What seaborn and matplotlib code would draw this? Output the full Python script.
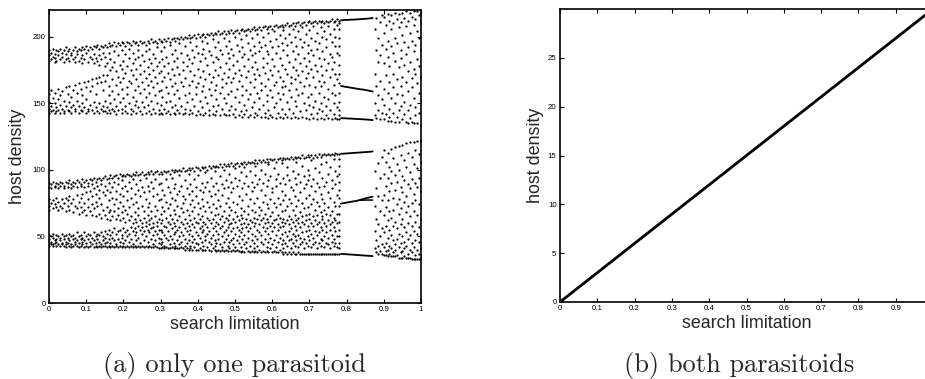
import matplotlib
matplotlib.use("Agg")
import matplotlib.pyplot as plt
import matplotlib.ticker as mticker
import pandas as pd
import seaborn as sns

# chaotic host densities, one row per search limitation value:
# "limitation  host values..."
host_high_rows = """
0.000 190 186 182 157 151 146 143
0.005 188 183 160 148 144
0.010 191 185 154 145
0.015 187 184 181 158 150 143
0.020 190 182 147 144
0.025 189 186 161 153 145
0.030 191 183 156 149 143
0.035 188 185 159 146
0.040 190 181 152 144 143
0.045 192 187 183 162 148
0.050 189 184 157 145
0.055 191 182 163 151 144
0.060 188 186 155 147 143
0.065 190 183 160 149
0.070 192 185 181 164 146 144
0.075 189 187 158 152
0.080 191 182 165 148 143
0.085 190 184 161 145
0.090 192 186 180 156 150 144
0.095 191 183 166 147
0.100 193 188 162 153 143
0.105 190 181 167 146 144
0.110 192 185 159 149
0.115 191 183 168 163 145
0.120 193 187 180 151 143
0.125 192 184 169 157 147
0.130 194 182 165 144
0.135 191 186 179 170 150 143
0.140 193 183 166 146
0.145 192 188 171 160 148 144
0.150 194 185 178 167 152 144
0.155 192 180 171 147 143
0.160 195 188 163 156 145
0.165 193 183 175 150 143
0.170 194 177 168 159 146
0.175 196 189 181 153 144
0.180 193 174 164 148 142
0.185 195 186 170 157 145
0.190 194 179 166 151
0.195 196 190 176 161 146 143
0.200 195 182 169 154
0.205 193 187 173 148 144
0.210 196 178 162 157 143
0.215 195 191 184 167 150
0.220 194 175 165 146 142
0.225 197 188 180 171 155 144
0.230 195 183 160 149
0.235 196 176 168 152 143
0.240 194 190 185 163 147
0.245 197 179 172 158 144
0.250 195 186 166 151 142
0.255 196 182 174 161 147
0.260 194 189 169 155 143
0.265 197 177 164 149
0.270 195 191 183 172 158 144
0.275 198 180 167 152 142
0.280 196 187 175 162 146
0.285 197 184 170 156 143
0.290 195 192 178 165 150
0.295 198 181 173 159 145 142
0.300 197 189 174 160 149 143
0.305 196 183 167 155 142
0.310 198 192 178 170 146
0.315 197 185 162 151 143
0.320 199 180 173 158 144
0.325 196 194 168 152 142
0.330 198 187 176 163 147
0.335 199 182 171 157 143
0.340 197 190 165 149 142
0.345 199 184 177 160 145
0.350 198 195 172 154 143
0.355 200 188 166 148
0.360 198 181 175 163 142
0.365 200 193 169 156 146 143
0.370 199 186 178 151
0.375 201 183 164 158 142
0.380 199 196 174 145
0.385 200 190 180 167 153 143
0.390 201 185 171 148
0.395 199 193 162 157 141
0.400 202 188 176 165 144
0.405 200 182 170 152 142
0.410 201 197 187 159 147
0.415 202 191 174 163 141
0.420 200 184 168 155 143
0.425 202 195 179 150
0.430 201 189 172 161 145 141
0.435 203 186 166 156
0.440 201 198 181 170 148 142
0.445 203 192 175 160 141
0.450 202 185 164 153 144
0.455 204 196 183 171 149
0.460 202 190 177 158 141
0.465 203 187 168 162 146
0.470 204 199 173 154 142
0.475 202 193 180 165 150 141
0.480 204 188 170 157
0.485 203 197 184 176 145 141
0.490 205 191 166 159 148
0.495 203 186 179 169 142
0.500 204 200 173 155 146 140
0.505 205 194 182 161
0.510 203 189 175 167 151 141
0.515 205 198 171 144
0.520 206 192 185 163 156 140
0.525 204 187 178 149 142
0.530 205 201 170 160 145
0.535 206 195 183 174 153 140
0.540 204 190 166 157 141
0.545 206 199 186 177 147
0.550 207 193 172 162 151 140
0.555 205 188 181 168 143
0.560 206 202 176 158 141
0.565 207 196 189 171 154 146
0.570 205 192 165 160 140
0.575 207 200 184 177 149
0.580 208 194 173 163 143 140
0.585 206 189 180 156 152
0.590 207 203 187 168 145 139
0.595 208 197 175 160 141
0.600 206 192 183 171 155 140
0.605 208 204 178 164 147
0.610 209 198 188 166 150 139
0.615 207 193 174 158 143
0.620 208 201 184 170 153 140
0.625 209 195 179 162 146
0.630 207 205 190 167 157 139
0.635 209 199 176 163 142
0.640 210 194 186 172 151 140
0.645 208 202 181 160 146
0.650 209 196 170 165 155 139
0.655 210 206 189 177 143
0.660 208 200 183 168 152 140
0.665 210 193 175 161 148
0.670 211 204 187 171 156 139
0.675 209 198 180 166 144
0.680 210 207 192 174 158 140
0.685 211 196 184 163 150
0.690 209 202 178 169 145 139
0.695 211 194 188 173 155
0.700 212 205 182 164 149 138
0.705 210 199 190 176 157 142
0.710 211 208 186 170 147 139
0.715 212 197 179 162 152
0.720 210 203 191 174 143 138
0.725 212 195 184 167 158 146
0.730 211 207 178 163 150 139
0.735 212 200 189 171 144
0.740 210 204 183 166 155 138
0.745 212 198 192 175 148 141
0.750 211 208 180 161 153 139
0.755 212 202 187 170 145
0.760 213 196 185 176 158 138
0.765 211 206 181 164 150 142
0.770 212 200 193 172 156 139
0.775 213 209 188 168 147 138
0.780 212 210 206 199 193 186 179 172 165 158 151 145 141 138
0.875 206 172 150 141
0.880 214 190 163 139
0.885 199 181 156 145
0.890 211 186 167 138
0.895 216 194 153 143
0.900 215 203 180 161 149 138
0.905 209 191 171 142
0.910 217 197 185 158 137
0.915 212 178 166 146 140
0.920 216 206 193 154 137
0.925 210 188 172 162 143
0.930 218 199 182 150 136
0.935 213 195 168 157 140
0.940 217 207 177 145 136
0.945 211 190 184 163 148
0.950 218 201 170 156 138
0.955 214 196 179 151 142
0.960 219 208 187 166 136
0.965 212 192 174 159 145 135
0.970 218 203 181 149 139
0.975 215 197 169 162 136
0.980 219 209 189 176 154 135
0.985 213 194 172 147 141
0.990 219 204 183 165 135
0.995 216 199 178 158 143
1.000 219 211 190 170 152 134
"""

host_low_rows = """
0.000 90 87 78 73 70 51 48 45 43
0.005 89 86 75 50 46 44
0.010 91 77 71 52 49 44 43
0.015 88 87 74 47 45
0.020 90 79 72 51 48 46 43
0.025 89 86 76 70 50 44
0.030 91 88 73 49 47 43
0.035 90 78 71 52 45 44
0.040 88 86 75 50 48 43
0.045 91 79 69 51 46 44 42
0.050 90 87 77 73 49 45
0.055 92 80 70 52 47 43
0.060 89 86 75 50 44 42
0.065 91 88 78 68 51 48 43
0.070 90 73 49 46 44
0.075 92 87 81 71 53 47 43
0.080 91 76 67 50 45 42
0.085 89 88 79 72 51 48 43
0.090 93 82 68 49 46 44
0.095 91 87 75 70 53 47 42
0.100 92 83 66 50 45 43
0.105 90 88 78 72 52 48 42
0.110 93 84 69 51 46 43
0.115 92 89 80 74 66 49 44
0.120 94 86 71 53 47 42
0.125 91 82 76 65 50 45 43
0.130 93 88 73 52 48 42
0.135 94 85 79 67 51 46 43
0.140 92 89 74 64 53 44 42
0.145 94 83 70 50 47 43
0.150 95 88 81 66 54 49 45 43
0.155 93 85 72 63 52 46 42
0.160 94 90 77 68 55 48 43
0.165 96 83 70 62 51 45 42
0.170 94 87 79 65 53 49 43
0.175 95 91 74 69 56 47 42
0.180 96 84 78 63 52 44 43
0.185 94 89 71 66 54 48 42
0.190 97 82 76 62 55 46 43
0.195 95 92 86 68 51 49 42
0.200 96 80 73 64 56 45 43
0.205 95 88 70 61 53 47 42
0.210 97 84 77 67 55 50 43
0.215 96 91 72 62 52 46 42
0.220 95 86 79 65 57 48 43
0.225 97 93 74 60 54 44 42
0.230 96 82 68 63 56 51 43
0.235 98 89 76 61 53 47 42
0.240 96 85 71 66 58 49 43
0.245 97 92 80 62 55 45 42
0.250 98 87 73 60 57 52 43
0.255 96 83 69 64 54 47 42
0.260 97 94 78 61 58 50 43
0.265 98 88 72 66 55 46 42
0.270 97 84 75 62 59 53 43
0.275 99 91 69 64 56 48 42
0.280 97 86 80 60 57 51 44 42
0.285 98 93 73 65 54 47 43
0.290 99 82 70 61 58 52 42
0.295 97 89 77 63 55 49 45 41
0.300 98 90 78 67 60 55 48 44 41
0.305 97 85 72 62 53 46 42
0.310 99 81 69 58 51 43 41
0.315 98 93 76 64 57 49 42
0.320 99 87 71 61 54 47 41
0.325 97 83 74 66 59 50 44 41
0.330 100 94 79 63 56 48 42
0.335 98 86 70 60 52 45 41
0.340 100 89 77 67 58 53 43 41
0.345 99 82 73 62 55 47 41
0.350 100 96 84 65 57 50 44 41
0.355 99 88 71 61 53 46 42
0.360 101 80 75 68 59 51 41
0.365 99 92 78 63 56 48 43 40
0.370 100 86 70 60 54 45 41
0.375 101 97 82 66 58 52 47 40
0.380 100 89 74 62 55 43 41
0.385 101 84 77 69 59 50 46 40
0.390 99 93 72 64 57 48 42
0.395 102 87 80 61 53 45 40
0.400 101 96 75 67 60 51 44 40
0.405 100 85 71 63 56 49 41
0.410 102 90 78 65 58 53 46 40
0.415 101 83 73 61 55 43 40
0.420 102 98 87 69 59 50 47 40
0.425 100 91 76 64 57 52 42
0.430 103 84 72 62 54 46 40
0.435 101 94 80 68 60 49 44 39
0.440 103 88 74 63 56 51 41
0.445 102 99 82 66 58 47 43 40
0.450 103 90 71 61 54 45 39
0.455 102 85 77 67 59 52 48 40
0.460 104 95 73 63 56 44 39
0.465 102 89 81 65 58 50 42 40
0.470 104 100 86 69 61 53 46 39
0.475 103 92 75 64 55 48 40
0.480 104 87 79 62 57 51 43 39
0.485 103 97 72 66 59 46 41
0.490 105 91 83 70 60 54 47 39
0.495 103 86 76 63 56 49 44 40
0.500 104 101 94 68 61 52 42 39
0.505 105 88 74 65 57 47 40
0.510 103 92 80 62 55 50 45 39
0.515 105 98 71 66 59 53 42 38
0.520 104 86 77 64 56 48 39
0.525 106 102 90 69 60 51 44 38
0.530 104 95 82 63 57 46 41
0.535 106 88 73 67 59 54 49 39
0.540 105 99 78 62 56 43 38
0.545 106 91 84 70 61 52 47 39
0.550 105 87 75 64 58 45 41 38
0.555 107 103 96 68 60 50 39
0.560 105 89 79 63 55 48 43 38
0.565 107 93 72 66 59 53 40
0.570 106 100 85 70 62 51 46 38
0.575 107 90 76 64 57 44 39
0.580 106 97 81 67 60 54 48 38
0.585 108 88 74 63 56 42 39
0.590 106 104 92 71 61 52 46 38
0.595 108 95 78 65 58 49 41
0.600 107 86 83 68 60 54 44 38
0.605 108 101 75 62 57 47 39
0.610 106 93 88 72 63 51 42 38
0.615 108 97 79 66 59 55 46 38
0.620 109 90 74 64 57 49 40
0.625 107 105 84 69 61 52 44 38
0.630 109 94 77 63 58 47 41 37
0.635 108 89 81 70 60 53 45 38
0.640 109 102 96 73 62 50 43 37
0.645 108 92 78 65 59 54 47 38
0.650 110 87 75 63 56 48 41 37
0.655 108 99 85 70 61 52 45 38
0.660 110 94 80 66 58 50 43 37
0.665 109 106 89 73 62 55 47 37
0.670 110 97 77 64 60 51 42 38
0.675 109 91 83 68 57 49 44 37
0.680 111 103 75 65 61 53 46 37
0.685 109 95 86 71 59 48 41 37
0.690 110 89 79 66 62 54 45 37
0.695 111 100 92 72 58 50 43 37
0.700 110 96 81 67 63 55 47 37
0.705 111 107 88 74 60 52 42 37
0.710 109 93 78 65 58 49 44 37
0.715 111 101 84 70 62 54 46 37
0.720 110 90 76 66 59 51 41 37
0.725 112 98 87 73 61 53 45 37
0.730 110 104 82 68 57 48 43 37
0.735 111 94 78 65 63 55 47 37
0.740 112 88 75 70 60 50 42 37
0.745 111 106 91 67 58 53 45 37
0.750 112 97 83 72 62 49 44 37
0.755 111 102 79 66 59 55 41 37
0.760 112 92 86 69 61 51 46 37
0.765 111 108 76 64 57 48 43 37
0.770 113 99 89 73 62 54 45 37
0.775 112 95 81 67 60 50 42 37
0.780 112 108 103 97 91 85 79 73 67 61 55 50 45 41 37
0.875 99 73 54 41
0.880 86 63 47 38
0.885 105 80 59 43 37
0.890 94 69 50 39
0.895 110 77 56 44 37
0.900 115 97 81 66 53 42 36
0.905 106 88 72 58 45 39 36
0.910 113 94 77 62 49 40 35
0.915 102 84 69 55 43 37
0.920 116 99 90 64 51 41 35
0.925 109 79 70 58 47 38 35
0.930 117 96 85 61 44 40 35
0.935 104 91 74 56 48 36
0.940 118 100 78 67 52 42 34
0.945 111 87 71 59 45 38 34
0.950 119 95 83 63 50 39 34
0.955 107 92 76 57 46 41 35
0.960 120 102 80 68 53 43 34
0.965 113 89 73 60 48 37 34
0.970 121 98 86 65 51 40 34
0.975 110 93 75 58 45 38 33
0.980 121 104 82 69 54 42 33
0.985 115 90 77 61 47 36 33
0.990 122 101 87 66 52 40 33
0.995 112 94 74 57 46 37 33
1.000 122 106 84 63 50 41 33
"""

# periodic window of panel (a)
window_limitation = [0.785, 0.79, 0.795, 0.80, 0.805, 0.81, 0.815, 0.82, 0.825,
                     0.83, 0.835, 0.84, 0.845, 0.85, 0.855, 0.86, 0.865, 0.87]
window_branch_1 = [212.3, 212.4, 212.5, 212.5, 212.6, 212.7, 212.8, 212.8, 212.9,
                   213.0, 213.1, 213.2, 213.3, 213.4, 213.5, 213.6, 213.8, 214.0]
window_branch_2 = [163.0, 162.7, 162.4, 162.2, 162.0, 161.7, 161.5, 161.3, 161.0,
                   160.8, 160.6, 160.4, 160.2, 160.0, 159.7, 159.4, 159.1, 158.8]
window_branch_3 = [138.8, 138.7, 138.7, 138.6, 138.5, 138.5, 138.4, 138.3, 138.2,
                   138.2, 138.1, 138.0, 137.9, 137.8, 137.7, 137.6, 137.5, 137.3]
window_branch_4 = [112.0, 112.1, 112.2, 112.3, 112.4, 112.5, 112.6, 112.7, 112.8,
                   112.9, 113.0, 113.1, 113.2, 113.3, 113.4, 113.5, 113.6, 113.8]
window_branch_5 = [74.6, 74.9, 75.1, 75.4, 75.6, 75.9, 76.1, 76.4, 76.6,
                   76.9, 77.3, 77.7, 78.1, 78.5, 78.9, 79.2, 79.5, 79.8]
window_branch_6 = [36.9, 36.8, 36.7, 36.6, 36.5, 36.4, 36.3, 36.2, 36.1,
                   36.0, 35.9, 35.8, 35.7, 35.6, 35.5, 35.4, 35.3, 35.2]
split_limitation = [0.835, 0.84, 0.845, 0.85, 0.855, 0.86, 0.865, 0.87]
split_branch = [77.1, 77.2, 77.2, 77.3, 77.3, 77.3, 77.3, 77.3]

# panel (b): both parasitoids
both_limitation = [0.0, 1.0]
both_host = [0.0, 30.0]


def parse_rows(text):
    xs, ys = [], []
    for line in text.strip().splitlines():
        head, *vals = line.split()
        xs += [float(head)] * len(vals)
        ys += [float(v) for v in vals]
    return pd.DataFrame({"limitation": xs, "host": ys})


def tick_fmt(x, pos):
    return f"{x:g}"


def style_axes(ax):
    for side in ax.spines.values():
        side.set_visible(True)
        side.set_linewidth(1.2)
        side.set_color("black")
    ax.tick_params(direction="in", length=3, width=0.8, labelsize=5.7,
                   top=True, right=True, pad=2.5, colors="black")
    ax.xaxis.set_major_formatter(mticker.FuncFormatter(tick_fmt))
    ax.yaxis.set_major_formatter(mticker.FuncFormatter(tick_fmt))
    ax.set_xlabel("search limitation", fontsize=12.9)
    ax.set_ylabel("host density", fontsize=12.9)
    ax.grid(False)


def main():
    sns.set_style("ticks")
    plt.rcParams["font.family"] = ["Liberation Sans", "DejaVu Sans"]

    fig = plt.figure(figsize=(9.25, 3.79), dpi=100)

    # (a) only one parasitoid
    ax1 = fig.add_axes([49 / 925, 76 / 379, 372 / 925, 293 / 379])
    chaos = pd.concat([parse_rows(host_high_rows), parse_rows(host_low_rows)])
    sns.scatterplot(data=chaos, x="limitation", y="host", ax=ax1, s=2.6,
                    color="black", linewidth=0, legend=False)
    for branch in [window_branch_1, window_branch_2, window_branch_3,
                   window_branch_4, window_branch_5, window_branch_6]:
        sns.lineplot(x=window_limitation, y=branch, ax=ax1, color="black",
                     linewidth=1.3)
    sns.lineplot(x=split_limitation, y=split_branch, ax=ax1, color="black",
                 linewidth=1.1)
    ax1.set_xlim(0, 1)
    ax1.set_ylim(0, 220)
    ax1.set_xticks([0, 0.1, 0.2, 0.3, 0.4, 0.5, 0.6, 0.7, 0.8, 0.9, 1])
    ax1.set_yticks([0, 50, 100, 150, 200])
    style_axes(ax1)
    ax1.xaxis.set_label_coords(0.5, -0.045)
    ax1.yaxis.set_label_coords(-0.062, 0.5)

    # (b) both parasitoids (axes runs past the right edge of the figure)
    ax2 = fig.add_axes([560 / 925, 77 / 379, 373 / 925, 293 / 379])
    sns.lineplot(x=both_limitation, y=both_host, ax=ax2, color="black",
                 linewidth=2.0)
    ax2.set_xlim(0, 1)
    ax2.set_ylim(0, 30)
    ax2.set_xticks([0, 0.1, 0.2, 0.3, 0.4, 0.5, 0.6, 0.7, 0.8, 0.9])
    ax2.set_yticks([0, 5, 10, 15, 20, 25])
    style_axes(ax2)
    ax2.xaxis.set_label_coords(0.5, -0.045)
    ax2.yaxis.set_label_coords(-0.043, 0.5)

    fig.text(234 / 925, 7 / 379, "(a) only one parasitoid", family="cmr10",
             fontsize=19, ha="center", va="baseline")
    fig.text(739 / 925, 7 / 379, "(b) both parasitoids", family="cmr10",
             fontsize=19, ha="center", va="baseline")

    fig.savefig("out.png", dpi=100)
    plt.close(fig)


if __name__ == "__main__":
    main()
